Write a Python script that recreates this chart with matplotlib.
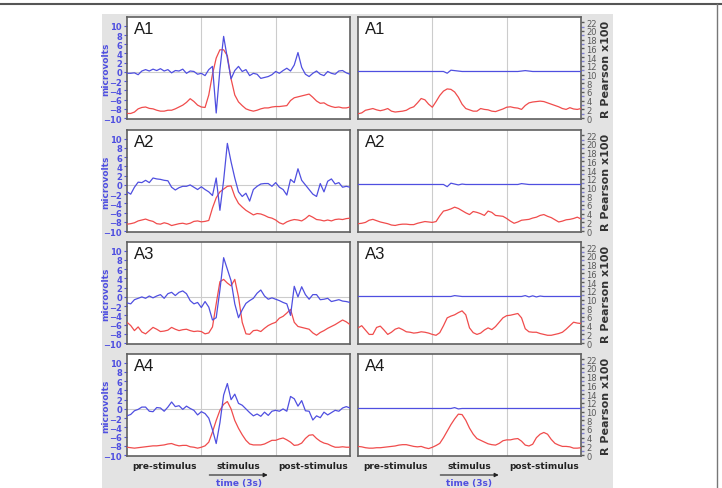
import numpy as np
import matplotlib
matplotlib.use("Agg")
import matplotlib.pyplot as plt
from matplotlib.patches import Rectangle, FancyArrowPatch
from matplotlib.lines import Line2D

# time axis: 3 s window, sampled every 0.05 s
t = np.linspace(0, 3, 61)

# left panels: evoked potentials (microvolts)
a1_blue = [-0.3, -0.3, -0.2, -0.6, 0.2, 0.5, 0.2, 0.6, 0.3, 0.7, 0.2, 0.5, -0.2, 0.3, 0.2, 0.6,
           -0.3, 0.2, 0.1, -0.5, -0.3, -0.8, 0.5, 1.2, -8.9, 0.5, 7.7, 3.0, -1.5, 0.3, 1.2, 0.1,
           0.5, -0.8, -0.3, -0.5, -1.4, -1.2, -1.0, -0.6, 0.1, -0.3, 0.3, 0.8, 0.2, 1.5, 4.2, 1.0,
           -0.5, -1.0, -0.3, 0.2, -0.5, -0.8, 0.1, -0.3, -0.5, 0.2, 0.3, -0.2, -0.5]
a1_red = [-9.0, -9.0, -8.7, -8.0, -7.7, -7.6, -7.9, -8.0, -8.3, -8.5, -8.5, -8.3, -8.3, -8.0, -7.6,
          -7.2, -6.6, -5.8, -6.4, -7.2, -7.6, -7.7, -5.0, -0.5, 3.0, 4.8, 4.8, 3.5, -1.5, -5.0, -6.5,
          -7.3, -8.0, -8.3, -8.5, -8.3, -8.0, -7.8, -7.8, -7.6, -7.5, -7.5, -7.4, -7.3, -6.2, -5.6,
          -5.4, -5.2, -5.0, -4.8, -5.5, -6.3, -6.8, -6.7, -7.2, -7.5, -7.7, -7.6, -7.8, -7.8, -7.6]

a2_blue = [-1.5, -2.0, -0.5, 0.6, 0.5, 1.0, 0.5, 1.5, 1.3, 1.2, 1.0, 0.9, -0.5, -1.1, -0.6, -0.3,
           -0.3, 0.0, -0.5, -1.0, -0.4, -1.0, -1.5, -2.3, 1.5, -5.5, 1.0, 9.0, 5.0, 1.5, -1.5, -2.5,
           -1.8, -3.5, -1.0, -0.3, 0.2, 0.3, 0.3, -0.3, 0.5, -0.5, -1.0, -2.2, 1.2, 0.5, 3.5, 1.0,
           0.0, -1.0, -2.0, -2.5, 0.3, -1.5, 0.8, 1.3, 0.2, 0.5, -0.5, -0.3, -0.5]
a2_red = [-8.5, -8.4, -8.2, -7.8, -7.6, -7.4, -7.7, -7.9, -8.4, -8.5, -8.2, -8.4, -8.8, -8.6, -8.4,
          -8.3, -8.5, -8.3, -7.9, -7.8, -8.0, -7.9, -7.7, -5.0, -2.8, -1.5, -0.9, -0.3, -0.2, -2.5,
          -4.0, -4.8, -5.5, -6.0, -6.5, -6.2, -6.3, -6.6, -7.0, -7.2, -7.6, -8.2, -8.5, -8.0, -7.7,
          -7.5, -7.6, -7.8, -7.3, -6.6, -7.0, -7.5, -7.6, -7.8, -7.6, -7.8, -7.5, -7.4, -7.5, -7.3, -7.2]

a3_blue = [-1.3, -1.5, -0.6, -0.3, 0.0, -0.3, 0.2, -0.2, 0.2, 0.5, -0.3, 0.7, 1.0, 0.3, 1.0, 1.3,
           0.7, -0.8, -1.5, -1.2, -2.3, -1.0, -2.2, -5.0, -4.5, 1.5, 8.5, 6.0, 3.5, -1.5, -4.5, -2.8,
           -1.4, -0.8, -0.3, 0.8, 1.5, 0.2, -0.5, -0.2, -0.5, -0.8, -1.2, -1.5, -4.0, 2.3, 0.0, 2.2,
           0.5, -0.5, 0.5, 0.5, -0.6, -0.5, -0.3, -1.0, -0.8, -0.6, -0.9, -1.0, -1.2]
a3_red = [-5.5, -6.2, -7.3, -6.5, -7.6, -8.0, -7.3, -6.6, -7.0, -7.5, -7.4, -7.2, -6.6, -7.0, -7.3,
          -7.1, -7.0, -7.3, -7.5, -7.4, -7.5, -8.0, -7.8, -6.5, -1.5, 3.3, 3.8, 3.0, 2.4, 3.8, 0.0,
          -5.5, -8.0, -8.1, -7.3, -7.2, -7.5, -6.8, -6.2, -5.8, -5.5, -4.6, -4.2, -3.5, -2.7, -5.5,
          -6.4, -6.6, -6.8, -7.0, -7.8, -8.3, -7.7, -7.3, -6.8, -6.4, -6.0, -5.5, -5.0, -5.4, -6.0]

a4_blue = [-1.5, -1.2, -0.4, -0.1, 0.4, 0.4, -0.5, -0.6, 0.3, 0.2, -0.5, 0.4, 1.5, 0.5, 0.7, -0.1,
           0.6, 0.1, -0.3, -1.3, -0.6, -1.0, -2.0, -4.5, -7.5, -3.0, 3.0, 5.5, 2.0, 3.2, 1.2, 0.8,
           0.0, -0.8, -1.5, -1.1, -1.6, -0.7, -1.4, -0.5, -0.3, -0.5, 0.0, -0.5, 2.7, 2.2, 0.6, 1.8,
           -0.4, -0.5, -2.4, -1.5, -1.9, -0.7, -1.3, -0.8, -0.3, -0.5, 0.2, 0.5, 0.2]
a4_red = [-8.3, -8.4, -8.5, -8.4, -8.3, -8.2, -8.1, -8.0, -8.0, -7.9, -7.8, -7.6, -7.5, -7.8, -8.0,
          -7.9, -7.9, -8.2, -8.3, -8.5, -8.3, -8.0, -7.2, -5.0, -2.5, -0.3, 1.0, 1.6, 0.0, -2.5, -4.2,
          -5.6, -6.8, -7.6, -7.8, -7.8, -7.8, -7.6, -7.2, -6.8, -6.8, -6.5, -6.3, -6.7, -7.2, -7.9,
          -7.8, -7.4, -6.4, -5.7, -5.6, -6.4, -7.0, -7.4, -7.6, -8.0, -8.3, -8.3, -8.2, -8.3, -8.3]

# right panels: Pearson correlation (x100)
r1_blue = [10.7] * 24 + [10.3, 11.0, 10.9, 10.8] + [10.7] * 16 + [10.8, 10.9, 10.8] + [10.7] * 14
r1_red = [1.0, 1.2, 1.8, 2.0, 2.2, 1.9, 1.7, 1.9, 2.2, 1.6, 1.4, 1.5, 1.6, 1.8, 2.3, 2.6, 3.5, 4.5,
          4.2, 3.2, 2.5, 3.8, 5.2, 6.2, 6.7, 6.6, 6.0, 4.8, 3.2, 2.2, 1.9, 1.6, 1.6, 2.2, 2.0, 1.9,
          1.6, 1.5, 1.8, 2.1, 2.5, 2.6, 2.4, 2.3, 2.0, 2.9, 3.5, 3.7, 3.8, 3.9, 3.8, 3.5, 3.2, 2.9,
          2.6, 2.2, 2.0, 2.4, 2.1, 2.0, 2.2]

r2_blue = [10.7] * 24 + [10.2, 11.0, 10.8, 10.6, 10.8] + [10.7] * 15 + [10.9, 10.8] + [10.7] * 15
r2_red = [1.7, 1.8, 2.0, 2.5, 2.7, 2.4, 2.1, 1.9, 1.7, 1.4, 1.3, 1.5, 1.6, 1.6, 1.5, 1.5, 1.8, 2.0,
          2.2, 2.1, 2.0, 2.2, 3.5, 4.6, 4.8, 5.1, 5.5, 5.2, 4.7, 4.2, 3.8, 4.5, 4.3, 4.0, 3.6, 4.6,
          4.3, 3.6, 3.5, 3.4, 2.9, 2.3, 1.8, 2.1, 2.5, 2.6, 2.7, 3.0, 3.2, 3.6, 3.8, 3.4, 3.1, 2.6,
          2.1, 2.3, 2.6, 2.7, 2.9, 3.2, 2.8]

r3_blue = [10.7] * 26 + [10.9, 10.8] + [10.7] * 17 + [10.9, 10.6, 10.85, 10.6, 10.8] + [10.7] * 11
r3_red = [3.5, 4.0, 3.0, 2.0, 2.0, 3.6, 3.9, 3.0, 2.0, 2.5, 3.2, 3.5, 3.1, 2.6, 2.5, 2.3, 2.4, 2.6,
          2.5, 2.3, 2.0, 1.8, 2.4, 4.0, 5.8, 6.2, 6.5, 7.0, 7.4, 6.5, 3.5, 2.4, 2.0, 2.3, 3.0, 3.5,
          3.1, 3.8, 4.8, 5.8, 6.3, 6.4, 6.6, 6.8, 5.8, 3.3, 2.6, 2.5, 2.5, 2.2, 2.0, 1.8, 1.8, 2.0,
          2.2, 2.5, 3.2, 4.0, 4.8, 4.6, 4.5]

r4_blue = [10.7] * 26 + [10.9, 10.6] + [10.7] * 33
r4_red = [2.0, 1.9, 1.7, 1.6, 1.6, 1.7, 1.7, 1.8, 1.9, 2.0, 2.1, 2.3, 2.4, 2.4, 2.2, 2.0, 1.9, 2.0,
          1.7, 1.5, 1.8, 2.2, 2.7, 4.0, 5.5, 7.0, 8.3, 9.4, 9.3, 8.0, 6.2, 4.8, 3.8, 3.4, 3.0, 2.6,
          2.4, 2.3, 2.7, 3.3, 3.5, 3.5, 3.7, 3.8, 3.2, 2.3, 2.1, 2.5, 4.0, 4.8, 5.2, 4.8, 3.6, 2.7,
          2.3, 2.0, 2.0, 1.9, 1.6, 1.6, 1.7]

labels = ["A1", "A2", "A3", "A4"]
left_data = [(a1_blue, a1_red), (a2_blue, a2_red), (a3_blue, a3_red), (a4_blue, a4_red)]
right_data = [(r1_blue, r1_red), (r2_blue, r2_red), (r3_blue, r3_red), (r4_blue, r4_red)]
phases = ["pre-stimulus", "stimulus", "post-stimulus"]

BLUE = "#4f4fe0"
RED = "#f04c4c"
W, H = 722, 489

fig = plt.figure(figsize=(W / 100, H / 100), dpi=100)


def fx(px):
    return px / W


def fy(py):
    return 1 - py / H


# grey background panel + page lines
fig.patches.append(Rectangle((fx(102), 0), fx(613) - fx(102), fy(15), transform=fig.transFigure,
                             facecolor="#e3e3e3", edgecolor="none", zorder=-10))
fig.lines.append(Line2D([0, 1], [fy(5), fy(5)], transform=fig.transFigure, color="#555555", lw=1.5))
fig.lines.append(Line2D([fx(717), fx(717)], [fy(5), 0], transform=fig.transFigure, color="#777777", lw=1))

tops = [18, 131, 243, 355]
ax_h = 102


def style_frame(ax, lab):
    for s in ax.spines.values():
        s.set_color("#606060")
        s.set_linewidth(1.2)
    for x in (1, 2):
        ax.axvline(x, color="#cccccc", lw=0.8, zorder=1)
    ax.set_xlim(0, 3)
    ax.set_xticks([])
    ax.text(0.03, 0.96, lab, transform=ax.transAxes, ha="left", va="top",
            fontsize=12, family="Liberation Sans", color="#1a1a1a")


for i, top in enumerate(tops):
    bottom = fy(top + ax_h)
    # left: microvolts
    axl = fig.add_axes([fx(127), bottom, fx(350) - fx(127), ax_h / H])
    style_frame(axl, labels[i])
    axl.axhline(0, color="#cccccc", lw=0.8, zorder=1)
    blue, red = left_data[i]
    axl.plot(t, red, color=RED, lw=0.9, zorder=3)
    axl.plot(t, blue, color=BLUE, lw=0.9, zorder=4)
    axl.set_ylim(-10.2, 11.9)
    axl.set_yticks(range(-10, 11, 2))
    axl.tick_params(axis="y", colors=BLUE, labelsize=6, length=2.5, width=0.8, pad=1)
    for lbl in axl.get_yticklabels():
        lbl.set_fontweight("bold")
    axl.set_ylabel("microvolts", color=BLUE, fontsize=6.5, fontweight="bold")
    axl.yaxis.set_label_coords((110 - 127) / 223, 0.5)

    # right: R Pearson
    axr = fig.add_axes([fx(358), bottom, fx(581) - fx(358), ax_h / H])
    style_frame(axr, labels[i])
    blue, red = right_data[i]
    axr.plot(t, red, color=RED, lw=0.9, zorder=3)
    axr.plot(t, blue, color=BLUE, lw=0.9, zorder=4)
    axr.set_ylim(-0.2, 23.2)
    axr.yaxis.tick_right()
    axr.set_yticks(range(0, 23, 2))
    axr.set_yticks(np.arange(0, 22.5, 1), minor=True)
    axr.tick_params(axis="y", which="major", colors="#5a5a5a", labelsize=6, length=2, width=1,
                    pad=2)
    axr.tick_params(axis="y", which="minor", color="#8080d0", length=2, width=1)
    for tk in axr.yaxis.get_major_ticks():
        tk.tick2line.set_color("#8080d0")
    axr.yaxis.set_label_position("right")
    axr.set_ylabel("R Pearson x100", color="#333333", fontsize=8, fontweight="bold")
    axr.yaxis.set_label_coords((601 - 358) / 223, 0.5)

# phase labels and time arrow under each column
for x0, x1 in [(127, 350), (358, 581)]:
    seg = (x1 - x0) / 3
    for k, name in enumerate(phases):
        fig.text(fx(x0 + seg * (k + 0.5)), fy(467), name, ha="center", va="center",
                 fontsize=6.5, fontweight="bold", color="#222222")
    cx = x0 + seg * 1.5
    fig.patches.append(FancyArrowPatch((fx(cx - 32), fy(476)), (fx(cx + 32), fy(476)),
                                       transform=fig.transFigure, arrowstyle="-|>",
                                       mutation_scale=6, color="#222222", lw=0.8))
    fig.text(fx(cx), fy(483.5), "time (3s)", ha="center", va="center",
             fontsize=6.5, fontweight="bold", color=BLUE)

fig.savefig("out.png", dpi=100)
